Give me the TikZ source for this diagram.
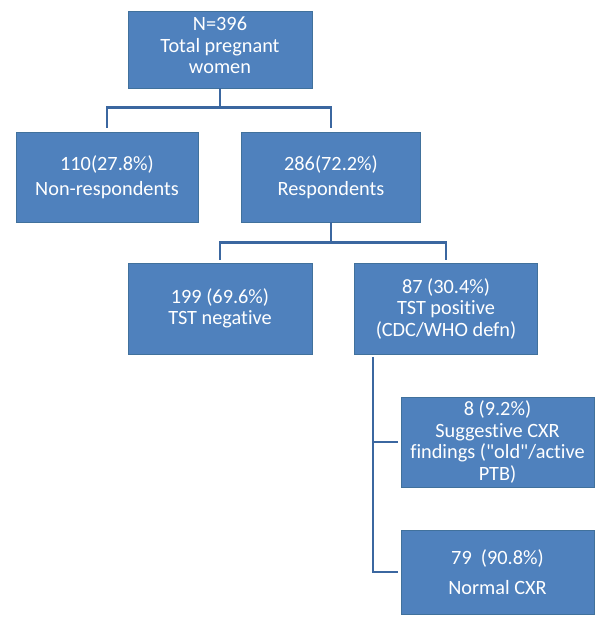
\documentclass[tikz,border=0pt]{standalone}
\usepackage{fontspec}
\newfontfamily\boxfont{Carlito}[Ligatures=NoCommon]
\definecolor{boxfill}{HTML}{4F81BD}
\definecolor{boxline}{HTML}{41719C}
\definecolor{connline}{HTML}{3B67A0}
\begin{document}
\begin{tikzpicture}[x=1pt,y=-1pt,
  blk/.style={draw=boxline,line width=0.6pt,fill=boxfill,text=white,align=center,inner sep=0pt,
    font=\boxfont\fontsize{20.3}{21.5}\selectfont},
  conn/.style={draw=connline,line width=2.4pt}]
\useasboundingbox (0,0) rectangle (600,627);
\node[blk,minimum width=184,minimum height=77] (top) at (220,49.5) {N=396\\Total pregnant\\women\rule[-8pt]{0pt}{8pt}};
\node[blk,minimum width=182,minimum height=90] (nonresp) at (107,177) {110(27.8\%)\\[4pt]Non-respondents};
\node[blk,minimum width=179,minimum height=90] (resp) at (331,177) {286(72.2\%)\\[4pt]Respondents};
\node[blk,minimum width=184,minimum height=91] (tstneg) at (220,308.5) {199 (69.6\%)\\TST negative};
\node[blk,minimum width=183,minimum height=91] (tstpos) at (446,308.5) {87 (30.4\%)\\TST positive\\(CDC/WHO defn)};
\node[blk,minimum width=193,minimum height=90] (sugg) at (497.5,442) {8 (9.2\%)\\Suggestive CXR\\findings ("old"/active\\PTB)};
\node[blk,minimum width=193,minimum height=84] (normal) at (497.5,572) {79~ (90.8\%)\\[8pt]Normal CXR};
% connectors
\draw[conn] (top.south) -- ++(0,19) coordinate (j1);
\draw[conn,shorten >=4pt] (j1) -| (nonresp.north);
\draw[conn,shorten >=4pt] (j1) -| (resp.north);
\draw[conn] (resp.south) -- ++(0,20) coordinate (j2);
\draw[conn,shorten >=3pt] (j2) -| (tstneg.north);
\draw[conn,shorten >=3pt] (j2) -| (tstpos.north);
\coordinate (j3) at ([xshift=19pt,yshift=-3pt]tstpos.south west);
\draw[conn] (j3) |- ([xshift=-3pt]normal.west);
\draw[conn,shorten >=3pt] (j3 |- sugg.west) -- (sugg.west);
\end{tikzpicture}
\end{document}
